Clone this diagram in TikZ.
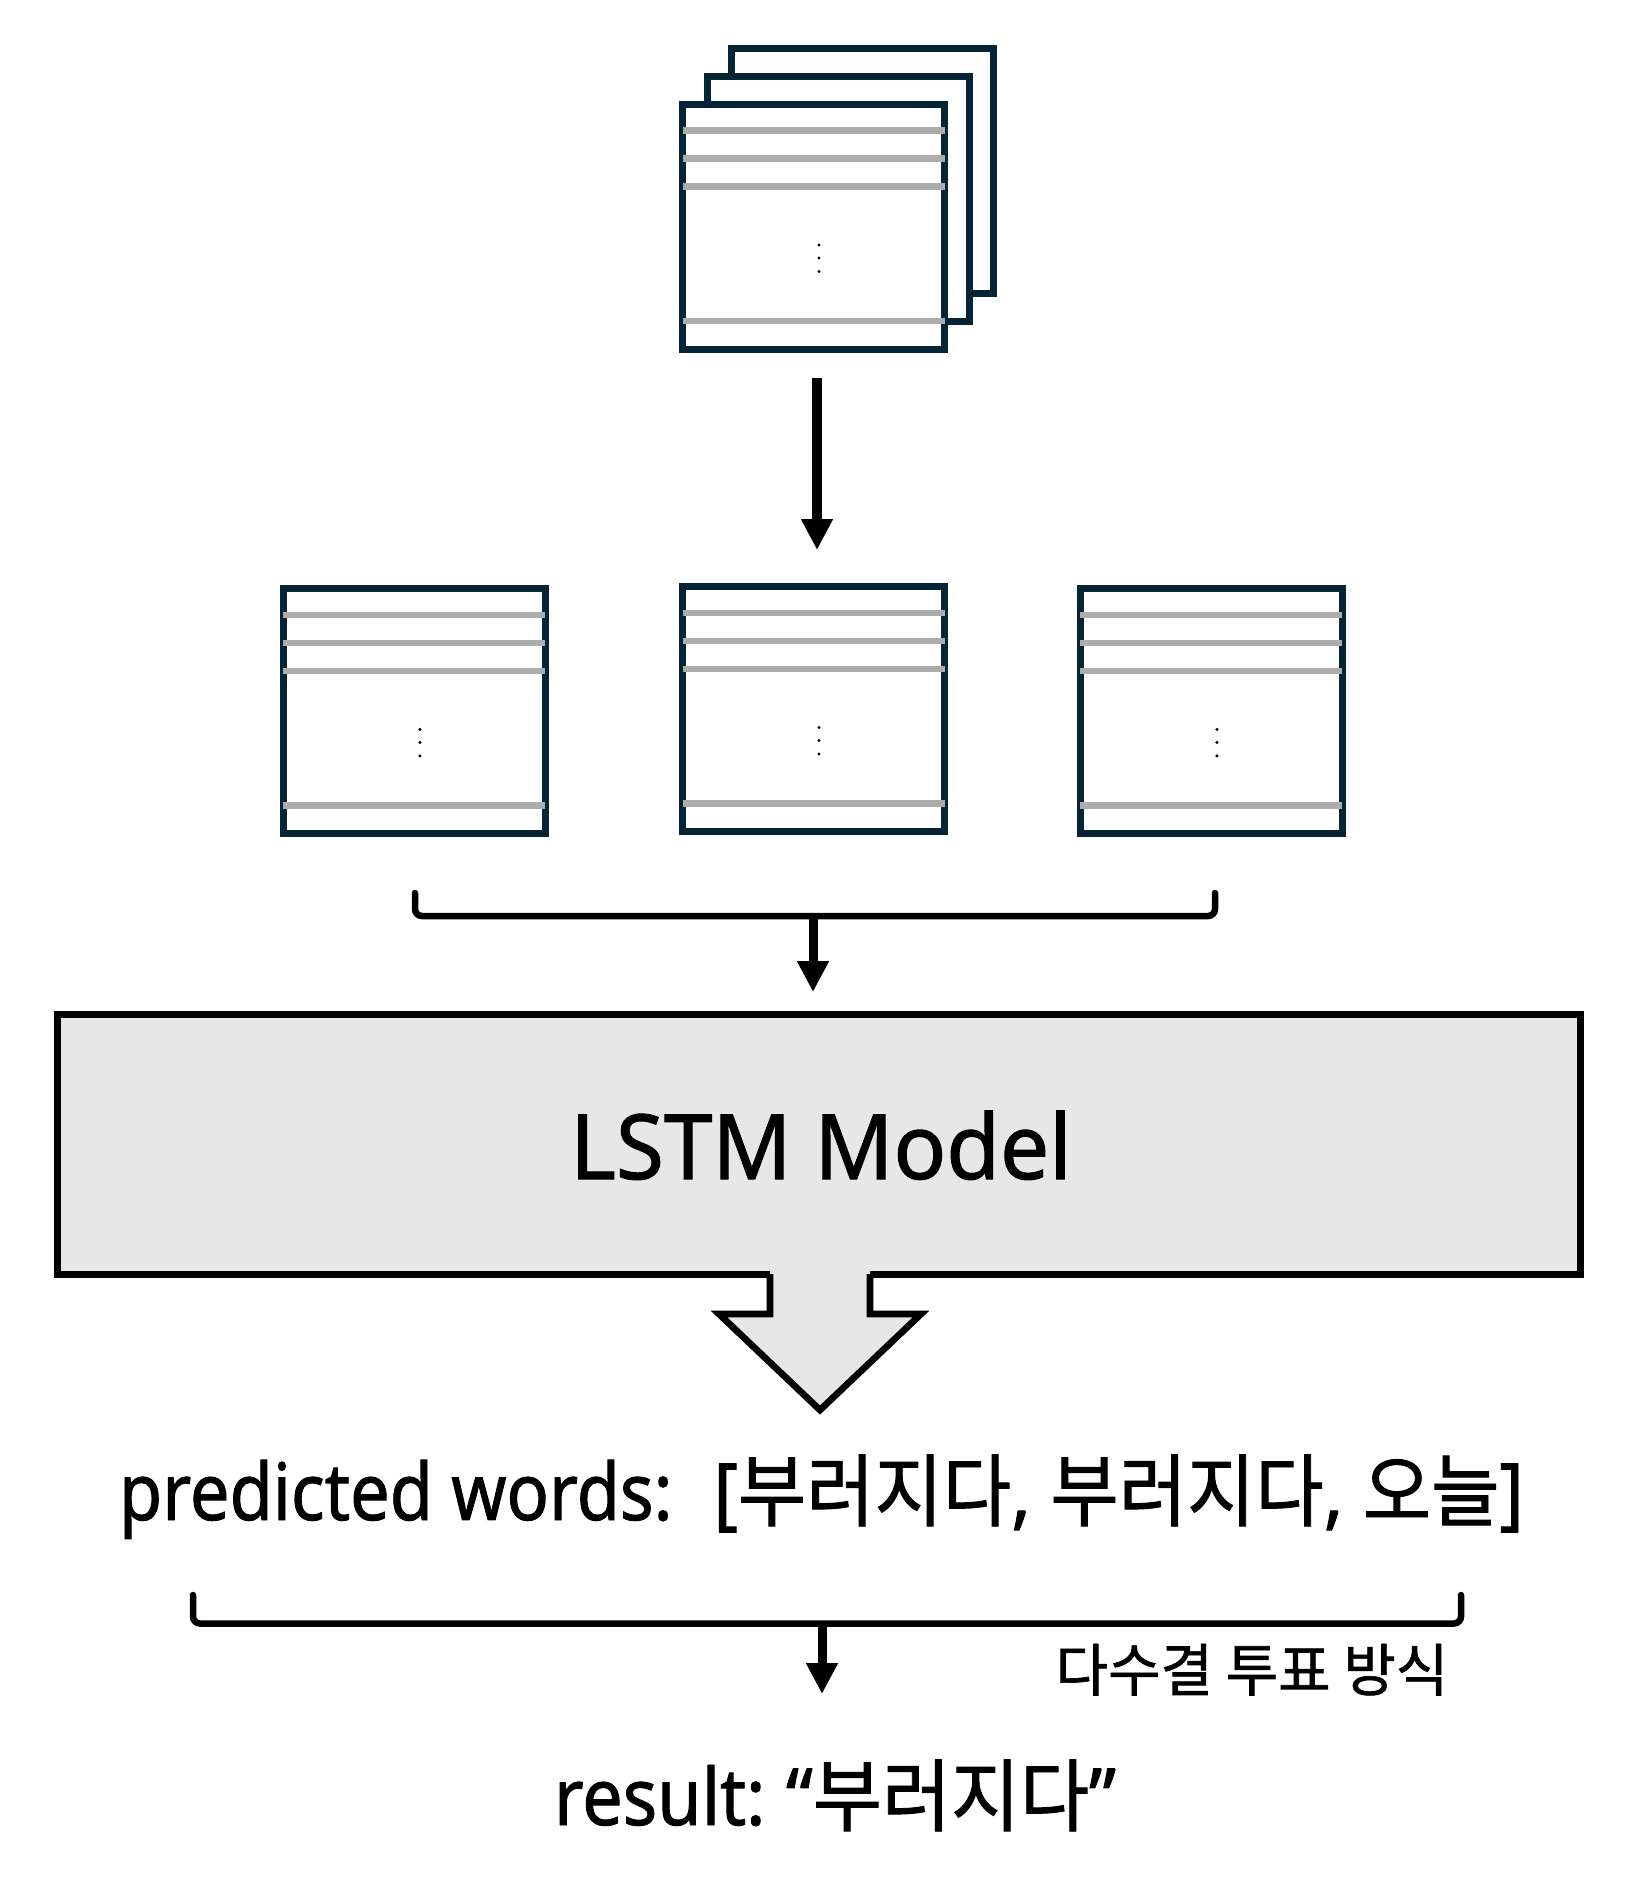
\documentclass[tikz,border=0pt]{standalone}
\usepackage{fontspec}
\setmainfont{Noto Sans}[FakeBold=1.2]
\newfontfamily\kr{Noto Sans CJK KR}[FakeBold=1.2]
\usetikzlibrary{arrows.meta,calc}
\definecolor{navy}{RGB}{5,37,54}
\definecolor{rulegrey}{RGB}{173,173,173}
\definecolor{modelfill}{RGB}{231,231,231}
\tikzset{
  docbox/.style={draw=navy, line width=7pt, fill=white, minimum width=262pt, minimum height=245pt, inner sep=0pt},
  greyline/.style={draw=rulegrey, line width=6.7pt},
  docpage/.pic={
    \node[docbox] (-b) at (0,0) {};
    \foreach \yy in {-96,-68,-40,94.5} \draw[greyline] (-131,\yy) -- (131,\yy);
    \foreach \yy in {18.5,31.5,45} \fill (5.5,\yy) circle (1.7);
  },
  flow/.style={line width=9.5pt, -{Triangle[length=31pt,width=30pt]}},
  bracketline/.style={line width=6.5pt, line cap=round, rounded corners=7pt},
  modelbox/.style={draw=black, line width=7pt, fill=modelfill, minimum width=1523pt, minimum height=259.5pt, inner sep=0pt},
  blockarrow/.style={draw=black, line width=6.7pt, miter limit=20},
  lbl/.style={inner sep=0pt, anchor=base, text=black},
}
\begin{document}
\begin{tikzpicture}[x=1pt,y=-1pt]
\useasboundingbox[fill=white] (0,0) rectangle (1634,1885);

% stacked input pages
\node[docbox] (sb) at (862.5,170.5) {};
\node[docbox] (sm) at (838,198.5) {};
\pic (sf) at (813.5,226.5) {docpage};

% split pages
\pic (rl) at (414.4,710.9) {docpage};
\pic (rm) at (813.5,709) {docpage};
\pic (rr) at (1211.4,710.9) {docpage};

\draw[flow] ([xshift=3.5pt,yshift=-25pt]sf-b.south) -- ([xshift=3.5pt,yshift=33pt]rm-b.north);

% first bracket
\coordinate (b1l) at (415,893);
\coordinate (b1r) at (1215,893);
\coordinate (b1c) at (813,916);
\coordinate (b1t) at (813,992);
\draw[bracketline] (b1l) -- (415,916) -- (1215,916) -- (b1r);

% model
\node[modelbox] (model) at (818.5,1144.25) {};
\node[lbl, font=\fontsize{90}{100}\selectfont] (mtext) at (821,1179) {\scalebox{0.97}[1]{LSTM Model}};
\draw[flow, line width=9pt] (b1c) -- (b1t);

% block arrow
\fill[modelfill] (770,1268) -- (770,1314) -- (719,1314) -- (820,1410) -- (921,1314) -- (870,1314) -- (870,1268) -- cycle;
\draw[blockarrow] (770,1274) -- (770,1314) -- (719,1314) -- (820,1410) -- (921,1314) -- (870,1314) -- (870,1274);

% predicted words
\node[lbl, font=\fontsize{79}{90}\selectfont] (pred) at (821.5,1520) {\scalebox{0.89}[1]{predicted words:}\ \ \scalebox{0.94}[1]{[{\kr 부러지다}, {\kr 부러지다}, {\kr 오늘}]}};

% second bracket
\coordinate (b2l) at (193,1595);
\coordinate (b2r) at (1461,1595);
\coordinate (b2c) at (822,1623.5);
\draw[bracketline] (b2l) -- (193,1623.5) -- (1461,1623.5) -- (b2r);

\node[lbl, font=\fontsize{57}{64}\selectfont] (vote) at (1252,1691) {\kr 다수결 투표 방식};

\coordinate (res) at (822,1694);
\draw[flow, line width=9pt] (b2c) -- (res);

\node[lbl, font=\fontsize{79}{90}\selectfont] (result) at (835,1825) {\scalebox{0.91}[1]{result:} \scalebox{0.95}[1]{“{\kr 부러지다}”}};
\end{tikzpicture}
\end{document}
